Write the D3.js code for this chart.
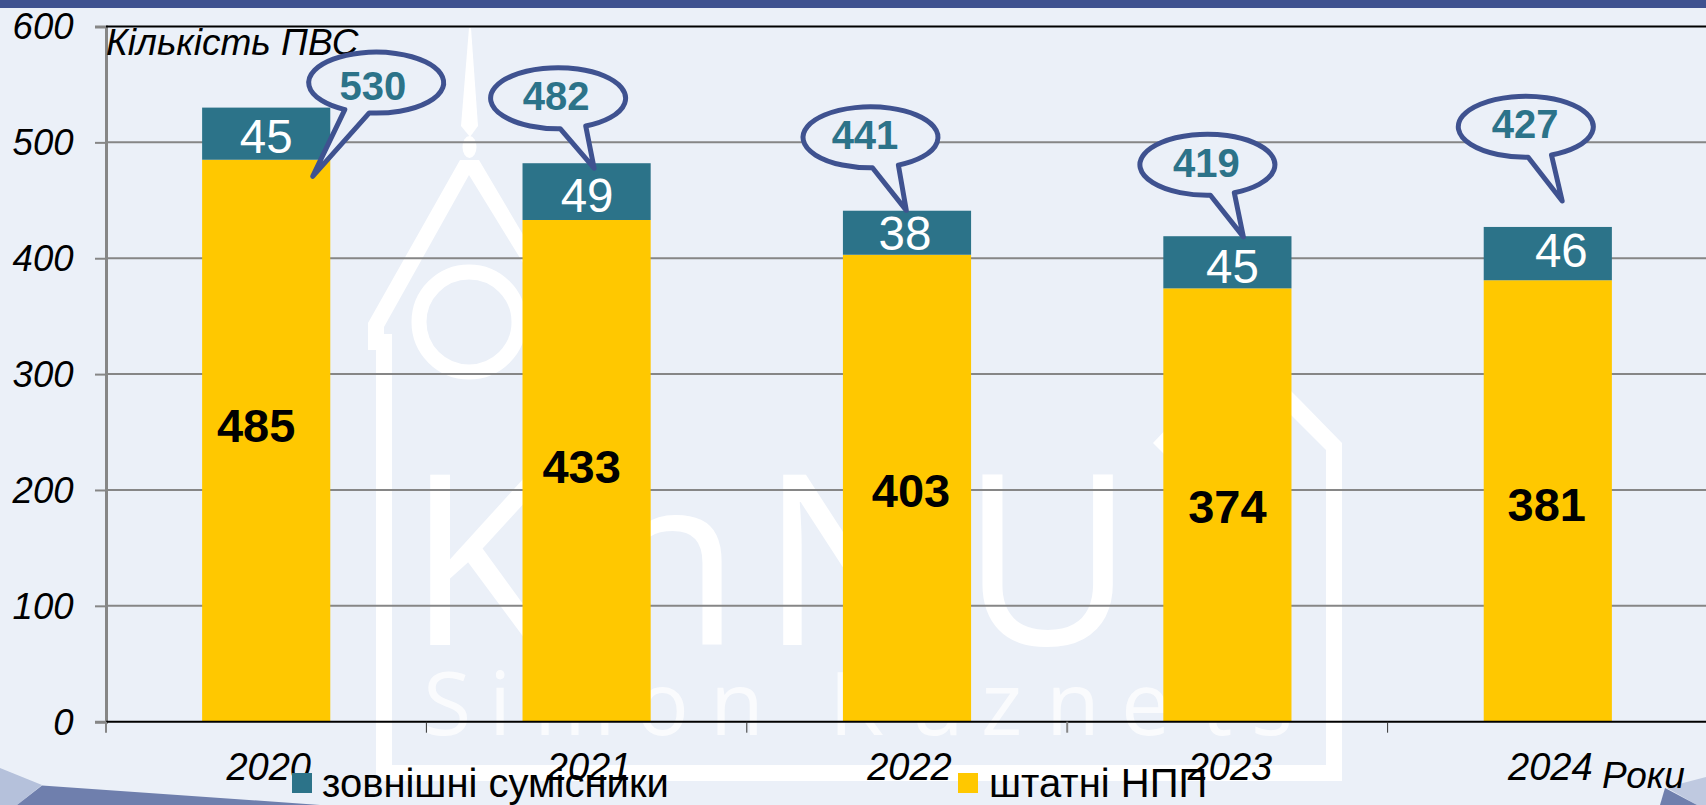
<!DOCTYPE html>
<html><head><meta charset="utf-8">
<script src="https://cdn.jsdelivr.net/npm/d3@7/dist/d3.min.js"></script>
<style>html,body{margin:0;padding:0;background:#EBF0F8;overflow:hidden}svg{display:block}text{font-family:"Liberation Sans",Arial,sans-serif}</style>
</head><body><svg id="c" width="1706" height="805"></svg>
<script>
const years = ["2020","2021","2022","2023","2024"];
const staff = [485,433,403,374,381];
const external = [45,49,38,45,46];
const totals = [530,482,441,419,427];
const yTicks = [0,100,200,300,400,500,600];
const seriesNames = ["зовнішні сумісники","штатні НПП"];
const yTitle = "Кількість ПВС";
const xTitle = "Роки";

// label nudges relative to the bars (layout only)
const staffLabel = [[-10,0],[-5,0],[4,0],[0,0],[-1,0]];
const staffBaseline = [442,483,507,523,521];
const extLabel = [[0,153],[0.5,211.5],[-2,250],[5,283],[13.5,267]];
// callout geometry relative to the top centre of each bar
const callCentre = [[110,-25],[-28.5,-65],[-36.5,-73.4],[-20,-71.5],[-22,-100.2]];
const callTip = [[46.5,68.7],[7.5,5],[-0.7,-0.4],[16,0.7],[14.4,-26]];
const callBaseL = [[-31.4,27],[2,29.6],[2,31],[3,30.5],[2.4,31]];
const callBaseR = [[-7,30.7],[27.5,27.7],[27.5,27.4],[27.5,28.6],[26.4,29]];
const callText = [[-3.3,17],[-2,11.7],[-5.5,11.5],[-1,12.2],[-0.6,11.5]];

const W=1706,H=805, BG="#EBF0F8", TEAL="#2C7389", GOLD="#FFC800", NAVY="#3F5290", GRID="#868686";
const svg=d3.select("#c");
const x=d3.scaleBand().domain(years).range([106,1708]).paddingInner(0.6).paddingOuter(0.3);
const y=d3.scaleLinear().domain([0,600]).range([721.7,26.5]);
const cx=i=>x(years[i])+x.bandwidth()/2;

svg.append("rect").attr("width",W).attr("height",H).attr("fill",BG);
svg.append("rect").attr("width",W).attr("height",8).attr("fill",NAVY);

// corner decoration
const poly=(pts,fill,op)=>svg.append("polygon").attr("points",pts.map(p=>p.join(",")).join(" ")).attr("fill",fill).attr("opacity",op||1);
poly([[0,768],[42,785],[17,805],[0,805]],"#B5C1DB");
poly([[42,785.5],[320,805],[17,805]],"#6F7FAD");
poly([[1667,788],[1683,783],[1706,777],[1706,805],[1697,805]],"#BFC9E0");
poly([[1665,788],[1697,805],[1660,805]],"#6F7FAD");

// watermark
const wm=svg.append("g").attr("fill","#fff");
const wp=(pts)=>wm.append("polygon").attr("points",pts.map(p=>p.join(",")).join(" "));
wp([[469,28],[471,28],[478,126],[470,137],[461,126]]);
wm.append("ellipse").attr("cx",469.5).attr("cy",147).attr("rx",7).attr("ry",11);
wp([[460,160],[479,160],[600,365],[590,372],[469,175],[384,327],[384,334],[392,334],[392,765],[1326,765],[1326,450],[1291,415],[1291,391],[1300,400],[1342,443],[1342,781],[376,781],[376,350],[368,350],[368,323]]);
wp([[1153,443],[1170,425],[1170,460]]);
wm.append("circle").attr("cx",469).attr("cy",322).attr("r",50).attr("fill","none").attr("stroke","#fff").attr("stroke-width",15);
wm.append("text").text("KhNU").attr("y",645).attr("x","407 595 760 961").style("font-family","'Open Sans'").style("font-size","238px");
wm.append("text").text("Simon Kuznets").attr("y",735).attr("x","423 489 534 636 710 780 829 910 981 1046 1121 1201 1251").style("font-family","'Open Sans'").style("font-size","88px").attr("opacity",0.75);

// grid
svg.append("g").selectAll("line").data(yTicks.filter(t=>t>0&&t<600)).join("line")
  .attr("x1",106).attr("x2",W).attr("y1",d=>y(d)).attr("y2",d=>y(d)).attr("stroke",GRID).attr("stroke-width",2);

// y axis
const yAxis=svg.append("g").attr("transform","translate(106,0)").call(d3.axisLeft(y).tickValues(yTicks).tickSize(11).tickPadding(21.5));
yAxis.selectAll("line").attr("stroke",GRID).attr("stroke-width",2);
yAxis.select(".domain").attr("stroke",GRID).attr("stroke-width",3);
yAxis.selectAll("text").attr("fill","#000").style("font-family","'Liberation Sans'").style("font-size","36.5px").style("font-style","italic").attr("dy","0.34em");

// top border
svg.append("line").attr("x1",106).attr("x2",W).attr("y1",y(600)).attr("y2",y(600)).attr("stroke","#000").attr("stroke-width",2);

// bars
svg.append("g").selectAll("rect").data(staff).join("rect")
  .attr("x",(d,i)=>x(years[i])).attr("width",x.bandwidth())
  .attr("y",d=>y(d)).attr("height",d=>y(0)-y(d)).attr("fill",GOLD);
svg.append("g").selectAll("rect").data(external).join("rect")
  .attr("x",(d,i)=>x(years[i])).attr("width",x.bandwidth())
  .attr("y",(d,i)=>y(staff[i]+d)).attr("height",d=>y(0)-y(d)).attr("fill",TEAL);

// x axis
svg.append("line").attr("x1",106).attr("x2",W).attr("y1",y(0)).attr("y2",y(0)).attr("stroke","#000").attr("stroke-width",2);
svg.append("g").selectAll("line").data(d3.range(0,5)).join("line")
  .attr("x1",d=>106+d*x.step()).attr("x2",d=>106+d*x.step()).attr("y1",y(0)).attr("y2",y(0)+11)
  .attr("stroke",(d)=>d==0||d==3?GRID:"#333").attr("stroke-width",d=>d==0||d==3?2:1);

// year labels
svg.append("g").selectAll("text").data(years).join("text").text(d=>d)
  .attr("x",(d,i)=>cx(i)+2.5).attr("y",780).attr("text-anchor","middle")
  .style("font-size","38px").style("font-style","italic").attr("fill","#000");

// value labels
svg.append("g").selectAll("text").data(staff).join("text").text(d=>d)
  .attr("x",(d,i)=>cx(i)+staffLabel[i][0]).attr("y",(d,i)=>staffBaseline[i]).attr("text-anchor","middle")
  .style("font-size","47px").style("font-weight","bold").attr("fill","#000");
svg.append("g").selectAll("text").data(external).join("text").text(d=>d)
  .attr("x",(d,i)=>cx(i)+extLabel[i][0]).attr("y",(d,i)=>extLabel[i][1]).attr("text-anchor","middle")
  .style("font-size","47.5px").attr("fill","#fff");

// titles
svg.append("text").text(yTitle).attr("x",106).attr("y",55).style("font-size","37px").style("font-style","italic").attr("fill","#000");
svg.append("text").text(xTitle).attr("x",1602).attr("y",788).style("font-size","37px").style("font-style","italic").attr("fill","#000");

// callouts
const RX=67.5,RY=30.5;
totals.forEach((t,i)=>{
  const bx=cx(i),by=y(t);
  const c=[bx+callCentre[i][0],by+callCentre[i][1]];
  const onE=o=>{const a=Math.atan2(o[1]/RY,o[0]/RX);return [c[0]+RX*Math.cos(a),c[1]+RY*Math.sin(a)];};
  const a=onE(callBaseL[i]),b=onE(callBaseR[i]),tip=[bx+callTip[i][0],by+callTip[i][1]];
  svg.append("path").attr("d",`M${a[0]},${a[1]}A${RX},${RY} 0 1 1 ${b[0]},${b[1]}L${tip[0]},${tip[1]}Z`)
    .attr("fill",BG).attr("stroke",NAVY).attr("stroke-width",5).attr("stroke-linejoin","round");
  svg.append("text").text(t).attr("x",c[0]+callText[i][0]).attr("y",c[1]+callText[i][1]).attr("text-anchor","middle")
    .style("font-size","40px").style("font-weight","bold").attr("fill",TEAL);
});

// legend
const legX=[292,958],legTx=[322,989],legC=[TEAL,GOLD];
seriesNames.forEach((n,i)=>{
  svg.append("rect").attr("x",legX[i]).attr("y",773).attr("width",20).attr("height",20).attr("fill",legC[i]);
  svg.append("text").text(n).attr("x",legTx[i]).attr("y",797).style("font-size","40px").attr("fill","#000");
});
</script></body></html>
